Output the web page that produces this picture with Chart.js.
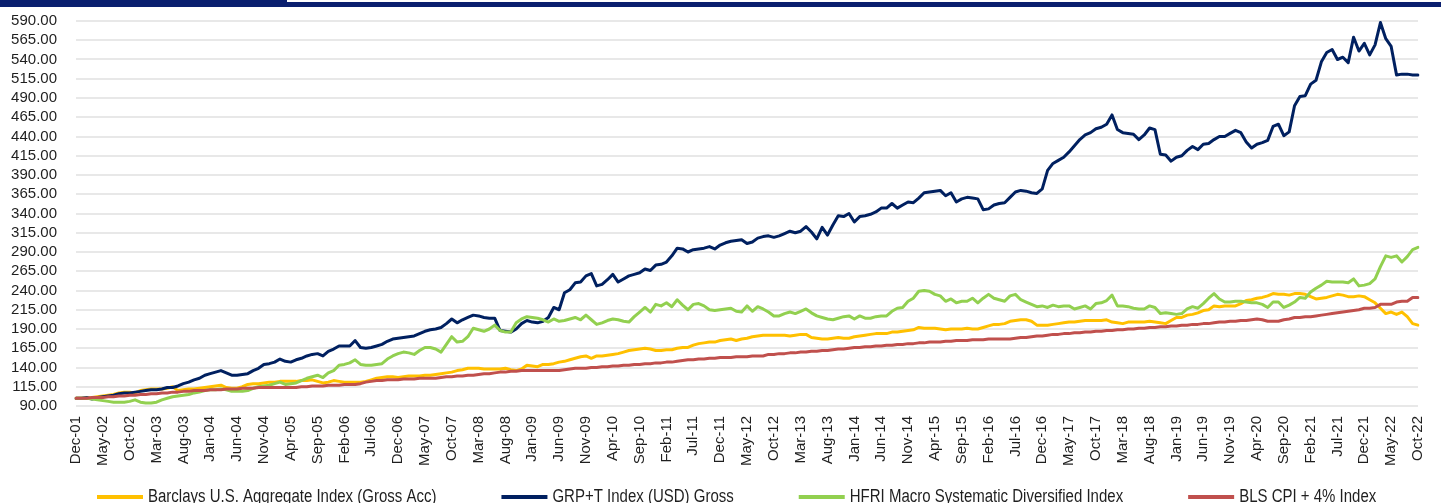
<!DOCTYPE html>
<html>
<head>
<meta charset="utf-8">
<script src="https://cdn.jsdelivr.net/npm/chart.js@4.4.0/dist/chart.umd.min.js"></script>
<style>
  html, body { margin: 0; padding: 0; background: #fff; overflow: hidden; }
  #wrap { position: relative; width: 1446px; height: 503px; }
  #chart { position: absolute; left: 0; top: 0; }
  .bar { position: absolute; background: #0a1f6f; }
</style>
</head>
<body>
<div id="wrap">
  <canvas id="chart" width="1446" height="503"></canvas>
  <div class="bar" style="left:0;top:0;width:287px;height:7px"></div>
  <div class="bar" style="left:287px;top:2px;width:1154px;height:5px"></div>
</div>
<script>
// monthly index levels, Dec-01 .. Oct-22
const barclays = [
  100,100,100,101,102,103,104,105,107,108,
  108,107,110,111,112,112,112,113,115,110,
  111,112,112,113,114,115,116,117,114,113,
  113,115,118,119,119,120,121,121,122,122,
  122,122,123,123,124,122,120,121,123,122,
  121,121,121,121,122,124,126,127,128,128,
  127,128,129,129,129,130,130,131,132,133,
  134,136,137,139,139,139,138,138,138,138,
  139,137,136,138,143,142,141,144,144,145,
  147,148,150,152,154,155,152,155,155,156,
  157,158,160,162,163,164,165,164,162,162,
  163,163,165,166,166,169,171,172,173,173,
  175,176,177,175,177,178,180,181,182,182,
  182,182,182,181,182,183,183,179,178,177,
  177,178,179,178,178,180,181,182,183,184,
  184,184,186,186,187,188,189,192,191,191,
  191,190,189,190,190,190,191,190,190,192,
  194,196,196,197,200,201,202,202,200,195,
  195,195,196,197,198,199,199,200,201,201,
  201,201,202,199,198,197,199,199,199,199,
  200,199,198,197,201,205,205,208,209,211,
  214,215,220,219,220,220,220,223,227,228,
  230,231,233,236,235,235,234,236,236,235,
  232,229,230,231,233,235,234,232,232,233,
  232,228,224,217,210,212,209,212,206,197,
  195
];
const grp = [
  100,100,101,99,101,102,103,104,106,107,
  107,108,109,110,111,111,112,114,114,116,
  119,121,124,126,130,132,134,136,133,130,
  130,131,132,136,139,144,145,147,151,148,
  147,150,152,155,157,158,155,161,164,168,
  168,168,175,166,165,166,168,170,174,177,
  178,179,180,181,184,187,189,190,192,197,
  203,198,202,205,208,207,205,204,204,188,
  187,186,190,197,201,199,198,200,205,218,
  215,237,241,250,251,259,262,246,248,254,
  261,251,255,259,261,263,268,266,273,274,
  277,285,295,294,290,293,294,295,297,294,
  299,302,304,305,306,301,303,308,310,311,
  309,311,314,317,315,317,323,316,307,322,
  312,325,337,336,340,329,336,337,339,342,
  347,347,353,347,351,355,354,360,367,368,
  369,370,363,367,355,359,361,360,359,345,
  346,351,353,354,361,368,370,369,367,366,
  372,396,405,409,413,420,428,436,442,445,
  450,452,456,468,449,445,444,443,436,442,
  451,449,417,416,408,413,415,422,427,423,
  430,431,436,440,440,444,448,445,433,425,
  430,432,435,453,456,441,446,480,492,493,
  508,513,537,549,553,540,543,536,569,551,
  561,546,559,588,567,557,520,521,521,520,
  520
];
const hfri = [
  100,100,100,99,98,97,96,95,95,95,
  96,98,95,94,94,95,98,100,102,103,
  104,105,107,108,110,111,111,112,111,109,
  109,109,110,113,115,116,117,119,121,118,
  119,120,123,126,128,130,127,133,136,143,
  144,146,150,144,143,143,144,145,151,155,
  158,160,159,157,162,166,166,164,160,170,
  180,173,174,180,191,189,187,190,195,188,
  186,186,198,203,206,205,204,202,199,203,
  200,201,203,205,202,208,202,196,198,201,
  203,202,200,199,206,212,218,212,222,220,
  224,219,228,221,215,222,223,220,215,214,
  215,216,217,213,212,220,213,219,216,212,
  207,207,210,212,210,213,216,211,207,205,
  203,202,204,206,207,203,207,204,204,206,
  207,207,213,217,218,226,230,239,240,239,
  235,233,226,229,224,226,226,230,224,230,
  235,230,228,226,233,235,228,225,222,219,
  220,218,221,219,220,220,216,218,220,216,
  223,224,227,234,220,220,219,217,216,216,
  220,218,210,211,210,209,210,216,219,217,
  223,230,236,229,225,225,226,226,225,224,
  224,222,218,225,225,218,221,225,231,230,
  238,243,247,252,251,251,251,250,255,246,
  247,249,255,271,285,283,285,277,284,293,
  296
];
const blsCpi = [
  100,100,100,101,101,101,102,102,103,103,
  104,104,105,105,106,106,107,107,108,108,
  109,109,110,110,110,111,111,111,112,112,
  112,113,113,113,114,114,114,114,114,114,
  114,114,115,115,116,116,116,117,117,117,
  118,118,118,119,121,122,123,123,124,124,
  124,125,125,125,126,126,126,126,127,128,
  128,129,129,130,130,131,132,132,133,134,
  134,135,135,136,136,136,136,136,136,136,
  136,137,138,139,139,139,140,140,141,141,
  142,142,143,143,144,144,145,145,146,146,
  147,147,148,149,150,150,151,151,152,152,
  153,153,153,154,154,154,155,155,155,157,
  157,158,158,159,159,160,160,161,161,162,
  162,163,164,164,165,166,166,167,167,168,
  168,169,169,170,170,171,171,172,172,173,
  173,173,174,174,175,175,175,176,176,176,
  177,177,177,177,177,178,179,179,180,181,
  181,182,183,183,184,184,185,185,186,186,
  187,187,188,188,189,189,190,190,191,191,
  192,192,193,193,194,194,195,195,196,196,
  197,197,198,199,199,200,200,201,201,202,
  203,202,200,200,200,202,203,205,205,206,
  206,207,208,209,210,211,212,213,214,215,
  217,217,218,222,222,222,225,226,226,231,
  231
];

const seriesNames = [
  'Barclays U.S. Aggregate Index (Gross Acc)',
  'GRP+T Index (USD) Gross',
  'HFRI Macro Systematic Diversified Index',
  'BLS CPI + 4% Index'
];
const monthNames = ['Jan','Feb','Mar','Apr','May','Jun','Jul','Aug','Sep','Oct','Nov','Dec'];
const yMin = 90, yMax = 590, yStep = 25;
const labelEvery = 5;

// Dec-01 onwards
const months = [];
for (let k = 0; k < grp.length; k++) {
  const m = (11 + k) % 12;
  const yr = 1 + Math.floor((11 + k) / 12);
  months.push(monthNames[m] + '-' + String(yr).padStart(2, '0'));
}

const fontFamily = '"Liberation Sans", Arial, sans-serif';
const font = { family: fontFamily, size: 15 };
const textColor = '#1f1f1f';

// legend drawn by hand so the items sit where the original puts them
const bottomLegend = {
  id: 'bottomLegend',
  afterDraw(chart) {
    const ctx = chart.ctx;
    ctx.save();
    ctx.font = '15px ' + fontFamily;
    ctx.textBaseline = 'middle';
    let x = 97;
    const y = 497;
    chart.data.datasets.forEach(ds => {
      ctx.fillStyle = ds.borderColor;
      ctx.fillRect(x, y - 2, 46, 4);
      ctx.fillStyle = textColor;
      ctx.save();
      ctx.translate(x + 51, y);
      ctx.scale(1, 1.2);
      ctx.fillText(ds.label, 0, 0);
      ctx.restore();
      x += 51 + ctx.measureText(ds.label).width + 65;
    });
    ctx.restore();
  }
};

function line(label, data, color, order) {
  return {
    label: label,
    data: data,
    borderColor: color,
    backgroundColor: color,
    borderWidth: 3,
    pointRadius: 0,
    tension: 0,
    fill: false,
    order: order,
    borderJoinStyle: 'round',
    borderCapStyle: 'round'
  };
}

new Chart(document.getElementById('chart'), {
  type: 'line',
  data: {
    labels: months,
    datasets: [
      line(seriesNames[0], barclays, '#FFC000', 4),
      line(seriesNames[1], grp, '#002060', 3),
      line(seriesNames[2], hfri, '#92D050', 2),
      line(seriesNames[3], blsCpi, '#C0504D', 1)
    ]
  },
  options: {
    responsive: false,
    animation: false,
    layout: { padding: { top: 21, right: 17, left: 0, bottom: 0 } },
    plugins: {
      legend: { display: false },
      tooltip: { enabled: false }
    },
    scales: {
      x: {
        grid: { display: false, drawTicks: false },
        border: { display: false },
        ticks: {
          autoSkip: false,
          minRotation: 90,
          maxRotation: 90,
          padding: 10,
          font: font,
          color: textColor,
          callback: function (value, index) {
            return index % labelEvery === 0 ? this.getLabelForValue(value) : null;
          }
        },
        afterFit: scale => { scale.height = 97; }
      },
      y: {
        min: yMin,
        max: yMax,
        grid: { color: '#e8e8e8', lineWidth: 2, drawTicks: true, tickLength: 15, tickColor: 'rgba(0,0,0,0)' },
        border: { display: false },
        ticks: {
          autoSkip: false,
          stepSize: yStep,
          padding: 4,
          font: font,
          color: textColor,
          callback: v => v.toFixed(2)
        },
        afterFit: scale => { scale.width = 76; }
      }
    }
  },
  plugins: [bottomLegend]
});
</script>
</body>
</html>
